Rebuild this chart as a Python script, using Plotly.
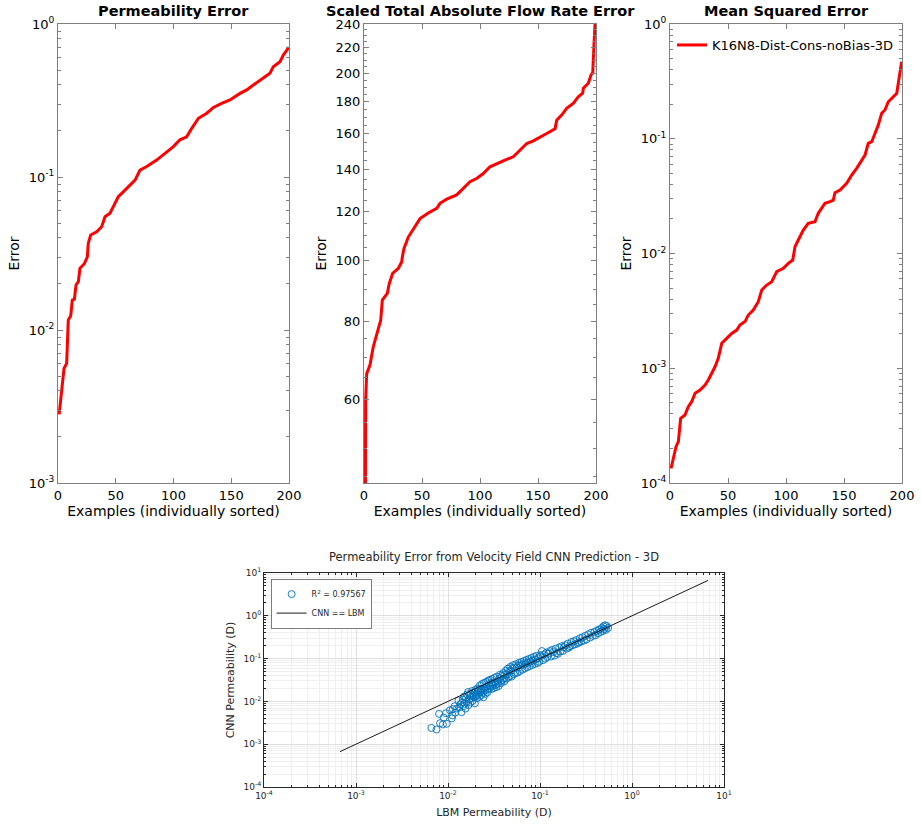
import plotly.graph_objects as go

# ---------------- data ----------------
perm_x = [1, 3.2, 5.2, 7.5, 8.9, 11, 12.4, 14.2, 15.6, 17.6, 19, 22.8, 25.4, 26.2, 28.3,
          33.5, 37.8, 40.7, 45, 47.9, 52.2, 56.5, 62.3, 66.7, 71, 76.8, 85.4, 94.1, 99.9,
          105.6, 111.4, 115.8, 121.6, 128.8, 134.6, 141.7, 148.9, 157.6, 163.4, 169.1,
          177.8, 183.5, 186.4, 192.2, 195.1, 199.4, 200]
perm_err = [0.00281, 0.00395, 0.0056, 0.00605, 0.0116, 0.0124, 0.0157, 0.0159, 0.0197,
            0.0207, 0.0253, 0.0271, 0.0301, 0.0368, 0.0418, 0.0439, 0.0473, 0.055, 0.058,
            0.064, 0.0743, 0.080, 0.0886, 0.0955, 0.111, 0.117, 0.129, 0.146, 0.158, 0.175,
            0.183, 0.208, 0.242, 0.261, 0.285, 0.303, 0.319, 0.352, 0.371, 0.399, 0.442,
            0.476, 0.526, 0.567, 0.627, 0.694, 0.705]

flow_x = [1, 1.4, 2.3, 5.2, 8, 11.5, 14.4, 15.8, 20.1, 21.8, 24.7, 29.6, 32.5, 33, 34.5,
          38.2, 42.5, 48.3, 55.4, 62.7, 65.5, 71.3, 79.9, 85.6, 91.4, 97.1, 102.8, 108.6,
          114.4, 123, 128.7, 134.5, 140.3, 146, 153.2, 157.5, 164.7, 166.1, 170.4, 174.7,
          180.4, 184.7, 188.5, 189.1, 193.4, 195.7, 197.2, 197.7, 198.3, 199.1, 200]
flow_err = [30, 59.7, 65.9, 68.1, 72.8, 76.9, 80.3, 86.5, 88.7, 92.0, 95.5, 97.3, 99.6,
            101.4, 104.7, 109.2, 112.6, 116.9, 119.4, 121.4, 123.7, 125.6, 127.6, 130.7,
            134.0, 135.6, 138.1, 141.6, 143.3, 145.5, 146.9, 150.5, 154.3, 155.8, 158.2,
            160.1, 163.0, 168.1, 171.4, 175.7, 179.0, 183.4, 185.8, 189.3, 192.8, 198.7,
            200.8, 207.3, 223.3, 239, 242]

mse_x = [0.9, 2.9, 5.2, 7.2, 9.2, 12.9, 15.8, 18.7, 21.6, 25.9, 30.2, 33, 35.9, 38.8,
         41.6, 44.6, 48.9, 53.2, 57.5, 60.3, 64.7, 67.5, 71.8, 76.1, 79.1, 83.4, 87.7, 92,
         97.7, 102, 105.8, 107.8, 110.6, 114.9, 119.2, 125, 127.8, 130.8, 133.6, 137.9,
         140.8, 142.2, 146.6, 152.3, 156.6, 160.9, 163.8, 168.1, 170.9, 173.9, 176.7,
         179.6, 182.5, 185.3, 188.2, 192.5, 195.5, 196.8, 198.3, 199.7]
mse_err = [1.34e-4, 1.69e-4, 2.07e-4, 2.29e-4, 3.66e-4, 3.91e-4, 4.63e-4, 5.11e-4,
           6.05e-4, 6.46e-4, 7.14e-4, 7.90e-4, 9.04e-4, 1.03e-3, 1.22e-3, 1.65e-3,
           1.82e-3, 2.01e-3, 2.15e-3, 2.38e-3, 2.55e-3, 2.91e-3, 3.22e-3, 3.80e-3,
           4.81e-3, 5.31e-3, 5.68e-3, 6.94e-3, 7.43e-3, 8.21e-3, 8.77e-3, 1.15e-2,
           1.31e-2, 1.60e-2, 1.83e-2, 1.89e-2, 2.24e-2, 2.48e-2, 2.74e-2, 2.83e-2,
           2.92e-2, 3.39e-2, 3.57e-2, 4.09e-2, 4.83e-2, 5.52e-2, 6.11e-2, 7.21e-2,
           9.12e-2, 9.42e-2, 0.111, 0.132, 0.167, 0.178, 0.210, 0.232, 0.249, 0.304,
           0.384, 0.469]

lbm_perm = [0.0066, 0.0075, 0.0080, 0.0082, 0.0088, 0.0090, 0.0095, 0.0097, 0.0105, 0.0110,
            0.0112, 0.0113, 0.0118, 0.0120, 0.0125,
            0.0130, 0.0133, 0.0136, 0.0140, 0.0142, 0.0145, 0.0148, 0.0150, 0.0152, 0.0155,
            0.0157, 0.0160, 0.0162, 0.0165, 0.0167, 0.0170, 0.0172, 0.0175, 0.0178, 0.0180,
            0.0183, 0.0185, 0.0188, 0.0190, 0.0193, 0.0196, 0.0198, 0.0200, 0.0203, 0.0206,
            0.0208, 0.0210, 0.0213, 0.0216, 0.0220,
            0.0222, 0.0225, 0.0228, 0.0231, 0.0234, 0.0237, 0.0240, 0.0243, 0.0246, 0.0250,
            0.0253, 0.0256, 0.0260, 0.0263, 0.0267, 0.0270, 0.0274, 0.0278, 0.0282, 0.0286,
            0.0290, 0.0294, 0.0298, 0.0302, 0.0306, 0.0310, 0.0315, 0.0320, 0.0325, 0.0330,
            0.0335, 0.0340, 0.0345, 0.0350, 0.0356, 0.0362, 0.0368, 0.0374, 0.0380, 0.0386,
            0.0392, 0.0398, 0.0404, 0.0410, 0.0417,
            0.0424, 0.0431, 0.0438, 0.0445, 0.0452, 0.0460, 0.0468, 0.0476, 0.0484, 0.0492,
            0.0500, 0.0510, 0.0520, 0.0530, 0.0540, 0.0550, 0.0560, 0.0571, 0.0582, 0.0593,
            0.0605, 0.0617, 0.0630, 0.0643, 0.0656, 0.0670, 0.0684, 0.0698, 0.0712, 0.0727,
            0.0742, 0.0758, 0.0774, 0.0790, 0.0807, 0.0824, 0.0842, 0.0860, 0.0878, 0.0897,
            0.0916, 0.0936, 0.0956, 0.0977, 0.0998,
            0.102, 0.105, 0.108, 0.111, 0.114, 0.117, 0.120, 0.124, 0.128, 0.132, 0.136,
            0.140, 0.144, 0.148, 0.152, 0.157, 0.162, 0.167, 0.172, 0.177, 0.182, 0.188,
            0.194, 0.200, 0.206, 0.212, 0.219, 0.226, 0.233, 0.240, 0.248, 0.256, 0.264,
            0.272, 0.281, 0.290, 0.300,
            0.31, 0.32, 0.335, 0.35, 0.36, 0.375, 0.39, 0.40, 0.415, 0.43, 0.44, 0.455,
            0.47, 0.48, 0.49, 0.50, 0.51, 0.52, 0.53, 0.55]
cnn_perm = [0.0024, 0.0022, 0.0051, 0.0031, 0.0029, 0.0042, 0.0053, 0.0030, 0.0062, 0.0040,
            0.0047, 0.0066, 0.0077, 0.0055, 0.0068,
            0.0105, 0.0072, 0.0085, 0.0056, 0.0095, 0.0110, 0.0078, 0.0130, 0.0088, 0.0068,
            0.0120, 0.0098, 0.0145, 0.0165, 0.0082, 0.0112, 0.0135, 0.0095, 0.0152, 0.0120,
            0.0175, 0.0102, 0.0140, 0.0128, 0.0160, 0.0090, 0.0185, 0.0133, 0.0150, 0.0118,
            0.0200, 0.0170, 0.0142, 0.0192, 0.0128,
            0.0235, 0.0165, 0.0195, 0.0140, 0.0255, 0.0190, 0.0160, 0.0125, 0.0270, 0.0205,
            0.0180, 0.0150, 0.0285, 0.0222, 0.0190, 0.0165, 0.0305, 0.0240, 0.0200, 0.0320,
            0.0225, 0.0270, 0.0195, 0.0335, 0.0265, 0.0235, 0.0205, 0.0355, 0.0280, 0.0245,
            0.0215, 0.0380, 0.0295, 0.0260, 0.0230, 0.0345, 0.0420, 0.0300, 0.0270, 0.0395,
            0.0320, 0.0460, 0.0340, 0.0295, 0.0430,
            0.0520, 0.0340, 0.0430, 0.0580, 0.0360, 0.0500, 0.0390, 0.0640, 0.0520, 0.0380,
            0.0600, 0.0700, 0.0430, 0.0620, 0.0460, 0.0740, 0.0620, 0.0470, 0.0690, 0.0800,
            0.0510, 0.0700, 0.0830, 0.0550, 0.0720, 0.0880, 0.0590, 0.0770, 0.0930, 0.0630,
            0.0810, 0.0980, 0.0670, 0.0850, 0.1040, 0.0710, 0.0910, 0.1100, 0.0750, 0.0960,
            0.1160, 0.0790, 0.1010, 0.0840, 0.1200,
            0.115, 0.150, 0.092, 0.125, 0.100, 0.138, 0.108, 0.130, 0.150, 0.112, 0.160,
            0.142, 0.118, 0.170, 0.135, 0.130, 0.182, 0.148, 0.195, 0.150, 0.185, 0.205,
            0.170, 0.222, 0.180, 0.195, 0.245, 0.205, 0.255, 0.215, 0.272, 0.225, 0.240,
            0.300, 0.250, 0.315, 0.265,
            0.34, 0.28, 0.37, 0.31, 0.40, 0.34, 0.42, 0.35, 0.45, 0.39, 0.48, 0.42,
            0.52, 0.44, 0.57, 0.49, 0.60, 0.47, 0.58, 0.52]
ident_line = [0.00067, 6.7]

example_ticks = [0, 50, 100, 150, 200]
flow_ticks = [60, 80, 100, 120, 140, 160, 180, 200, 220, 240]
flow_minor = [45, 50, 55, 65, 70, 75, 85, 90, 95, 105, 110, 115, 125, 130, 135, 145, 150,
              155, 165, 170, 175, 185, 190, 195, 205, 210, 215, 225, 230, 235]
r2_label = "R<sup>2</sup> = 0.97567"
series_name = "K16N8-Dist-Cons-noBias-3D"

# ---------------- helpers ----------------
FONT = "DejaVu Sans"
W, H = 921, 826


def px_x(v):
    return v / W


def px_y(v):
    return 1 - v / H


def decade_ticks(lo, hi):
    vals = [10.0 ** e for e in range(lo, hi + 1)]
    text = ["10<sup>%d</sup>" % e for e in range(lo, hi + 1)]
    minor = [m * 10.0 ** e for e in range(lo, hi) for m in range(2, 10)]
    return vals, text, minor


fig = go.Figure()

red = dict(color="#ff0000", width=3)
fig.add_trace(go.Scatter(x=perm_x, y=perm_err, mode="lines", line=red, xaxis="x", yaxis="y",
                         showlegend=False))
fig.add_trace(go.Scatter(x=flow_x, y=flow_err, mode="lines", line=red, xaxis="x2", yaxis="y2",
                         showlegend=False))
fig.add_trace(go.Scatter(x=mse_x, y=mse_err, mode="lines", line=red, xaxis="x3", yaxis="y3",
                         name=series_name, legend="legend"))
fig.add_trace(go.Scatter(x=lbm_perm, y=cnn_perm, mode="markers", xaxis="x4", yaxis="y4",
                         marker=dict(symbol="circle-open", size=7, color="#0072bd",
                                     line=dict(width=0.9, color="#0072bd")),
                         name=r2_label, legend="legend2"))
fig.add_trace(go.Scatter(x=ident_line, y=ident_line, mode="lines", xaxis="x4", yaxis="y4",
                         line=dict(color="#1a1a1a", width=1), name="CNN == LBM",
                         legend="legend2"))

top_y = [px_y(483), px_y(24)]
axis_common = dict(showline=True, linecolor="#7f7f7f", linewidth=1, mirror="allticks",
                   ticks="inside", tickcolor="#7f7f7f", showgrid=False, zeroline=False,
                   automargin=False,
                   tickfont=dict(family=FONT, size=13, color="#000"))
xcommon = dict(axis_common, range=[0, 200], tickvals=example_ticks, ticklen=5,
               title=dict(text="Examples (individually sorted)",
                          font=dict(family=FONT, size=14, color="#000"), standoff=4))

v1, t1, m1 = decade_ticks(-3, 0)
v3, t3, m3 = decade_ticks(-4, 0)

fig.update_layout(
    width=W, height=H, margin=dict(l=0, r=0, t=0, b=0),
    paper_bgcolor="white", plot_bgcolor="white",
    font=dict(family=FONT),
    xaxis=dict(xcommon, domain=[px_x(58), px_x(289)], anchor="y"),
    xaxis2=dict(xcommon, domain=[px_x(364), px_x(596)], anchor="y2"),
    xaxis3=dict(xcommon, domain=[px_x(670), px_x(902)], anchor="y3"),
    yaxis=dict(axis_common, type="log", range=[-3, 0], domain=top_y, anchor="x",
               tickvals=v1, ticktext=t1, ticklen=5,
               minor=dict(tickvals=m1, ticks="inside", ticklen=3, tickcolor="#7f7f7f"),
               title=dict(text="Error", font=dict(family=FONT, size=14, color="#000"),
                          standoff=5)),
    yaxis2=dict(axis_common, type="log", range=[1.6435, 2.3802], domain=top_y, anchor="x2",
                tickvals=flow_ticks, ticktext=[str(v) for v in flow_ticks], ticklen=5,
                minor=dict(tickvals=flow_minor, ticks="inside", ticklen=3, tickcolor="#7f7f7f"),
                title=dict(text="Error", font=dict(family=FONT, size=14, color="#000"),
                           standoff=5)),
    yaxis3=dict(axis_common, type="log", range=[-4, 0], domain=top_y, anchor="x3",
                tickvals=v3, ticktext=t3, ticklen=5,
                minor=dict(tickvals=m3, ticks="inside", ticklen=3, tickcolor="#7f7f7f"),
                title=dict(text="Error", font=dict(family=FONT, size=14, color="#000"),
                           standoff=5)),
)

v4, t4, m4 = decade_ticks(-4, 1)
bottom_axis = dict(type="log", range=[-4, 1], showline=True, linecolor="#262626",
                   linewidth=0.8, mirror="allticks", ticks="inside", tickcolor="#262626",
                   ticklen=4, zeroline=False, tickvals=v4, ticktext=t4, automargin=False,
                   tickfont=dict(family=FONT, size=9, color="#262626"),
                   showgrid=True, gridcolor="#dedede", gridwidth=1,
                   minor=dict(tickvals=m4, ticks="inside", ticklen=2, tickcolor="#262626",
                              showgrid=True, gridcolor="#efefef", gridwidth=1))
fig.update_layout(
    xaxis4=dict(bottom_axis, domain=[px_x(264), px_x(724)], anchor="y4",
                title=dict(text="LBM Permeability (D)",
                           font=dict(family=FONT, size=11, color="#262626"), standoff=8)),
    yaxis4=dict(bottom_axis, domain=[px_y(787), px_y(573)], anchor="x4",
                title=dict(text="CNN Permeability (D)",
                           font=dict(family=FONT, size=11, color="#262626"), standoff=6)),
    legend=dict(x=px_x(672), y=px_y(30), xanchor="left", yanchor="top",
                bgcolor="rgba(255,255,255,0)", borderwidth=0,
                font=dict(family=FONT, size=13, color="#000")),
    legend2=dict(x=px_x(271), y=px_y(579), xanchor="left", yanchor="top",
                 bgcolor="white", bordercolor="#262626", borderwidth=0.6,
                 font=dict(family=FONT, size=8, color="#262626"), tracegroupgap=0),
)

titles = [
    ("<b>Permeability Error</b>", (58 + 289) / 2, 11, 14.5, "#000"),
    ("<b>Scaled Total Absolute Flow Rate Error</b>", (364 + 596) / 2, 11, 14.5, "#000"),
    ("<b>Mean Squared Error</b>", (670 + 902) / 2, 11, 14.5, "#000"),
    ("Permeability Error from Velocity Field CNN Prediction - 3D", (264 + 724) / 2, 557, 11.5,
     "#262626"),
]
for text, cx, cy, size, col in titles:
    fig.add_annotation(text=text, x=px_x(cx), y=px_y(cy), xref="paper", yref="paper",
                       showarrow=False, xanchor="center", yanchor="middle",
                       font=dict(family=FONT, size=size, color=col))

fig.write_html("out.html")
